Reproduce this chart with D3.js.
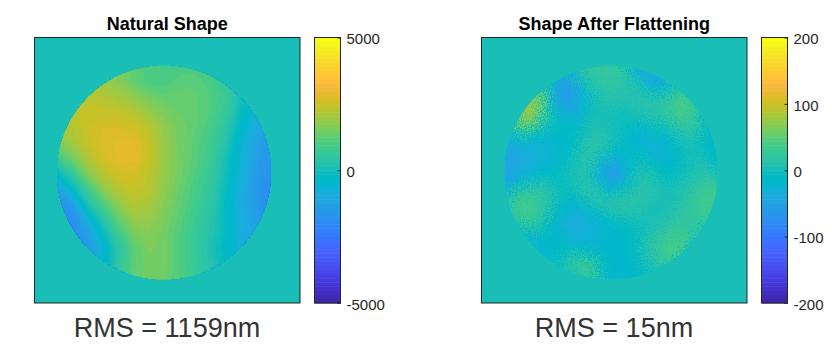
<!DOCTYPE html>
<html>
<head>
<meta charset="utf-8">
<script src="https://cdn.jsdelivr.net/npm/d3@7"></script>
<style>
html, body { margin: 0; padding: 0; background: #fff; }
svg { display: block; font-family: "Liberation Sans", Arial, sans-serif; }
</style>
</head>
<body>
<svg id="chart" width="832" height="353"></svg>
<script>
// parula(64)
const parula = [
[0.2422,0.1504,0.6603],[0.2504,0.1650,0.7076],[0.2578,0.1818,0.7511],[0.2647,0.1978,0.7952],
[0.2706,0.2147,0.8364],[0.2751,0.2342,0.8710],[0.2783,0.2559,0.8991],[0.2803,0.2782,0.9221],
[0.2813,0.3006,0.9414],[0.2810,0.3228,0.9579],[0.2795,0.3447,0.9717],[0.2760,0.3667,0.9829],
[0.2699,0.3892,0.9906],[0.2602,0.4123,0.9952],[0.2440,0.4358,0.9988],[0.2206,0.4603,0.9973],
[0.1963,0.4847,0.9892],[0.1834,0.5074,0.9798],[0.1786,0.5289,0.9682],[0.1764,0.5499,0.9520],
[0.1687,0.5703,0.9359],[0.1540,0.5902,0.9218],[0.1460,0.6091,0.9079],[0.1380,0.6276,0.8973],
[0.1248,0.6459,0.8883],[0.1113,0.6635,0.8763],[0.0952,0.6798,0.8598],[0.0689,0.6948,0.8394],
[0.0297,0.7082,0.8163],[0.0036,0.7203,0.7917],[0.0067,0.7312,0.7660],[0.0433,0.7411,0.7394],
[0.0964,0.7500,0.7120],[0.1408,0.7584,0.6842],[0.1717,0.7670,0.6554],[0.1938,0.7758,0.6251],
[0.2161,0.7843,0.5923],[0.2470,0.7918,0.5567],[0.2906,0.7973,0.5188],[0.3406,0.8008,0.4789],
[0.3909,0.8029,0.4354],[0.4456,0.8024,0.3909],[0.5044,0.7993,0.3480],[0.5616,0.7942,0.3045],
[0.6174,0.7876,0.2612],[0.6720,0.7793,0.2227],[0.7242,0.7698,0.1910],[0.7738,0.7598,0.1646],
[0.8203,0.7498,0.1535],[0.8634,0.7406,0.1596],[0.9035,0.7330,0.1774],[0.9393,0.7288,0.2100],
[0.9728,0.7298,0.2394],[0.9956,0.7434,0.2371],[0.9970,0.7659,0.2199],[0.9952,0.7893,0.2028],
[0.9892,0.8136,0.1885],[0.9786,0.8386,0.1766],[0.9676,0.8639,0.1643],[0.9610,0.8890,0.1537],
[0.9597,0.9135,0.1423],[0.9628,0.9373,0.1265],[0.9691,0.9606,0.1064],[0.9769,0.9839,0.0805]
].map(c => d3.rgb(c[0]*255, c[1]*255, c[2]*255).formatHex());

// surface height in nm, rows top to bottom
const naturalShape = [
[1500,1700,1900,1900,1700,1300,1000,900,900,1000,1000,800,300,-200,-500],
[1800,2000,2100,1900,1700,1300,1000,1000,1200,1200,1000,500,0,-300,-600],
[2000,2200,2300,2200,2000,1800,1500,1300,1300,1300,1100,800,100,-300,-700],
[2200,2300,2400,2400,2400,2200,1900,1600,1400,1300,1100,700,-100,-600,-1000],
[2000,2200,2500,2650,2650,2550,2300,1800,1500,1300,1000,500,-300,-900,-1300],
[1600,2000,2450,2700,2850,2850,2450,1900,1500,1200,900,300,-500,-1200,-1500],
[900,1500,2150,2600,2850,2900,2450,1900,1500,1200,800,100,-600,-1300,-1700],
[-200,700,1700,2250,2600,2650,2350,1900,1500,1100,700,0,-700,-1400,-1800],
[-1200,-200,900,1800,2250,2450,2300,1800,1400,1000,600,-100,-800,-1500,-2000],
[-1800,-1300,200,1100,1800,2200,2100,1700,1300,900,500,-200,-900,-1500,-2000],
[-2000,-1900,-700,400,1300,1900,1900,1600,1200,800,400,-200,-800,-1300,-1800],
[-2100,-2000,-1300,-200,800,1500,1700,1500,1100,700,300,-200,-800,-1200,-1600],
[-2100,-2000,-1500,-600,400,1200,1600,1500,1100,700,200,-300,-700,-1100,-1500],
[-2000,-1900,-1400,-500,500,1200,1500,1500,1100,700,300,-200,-700,-1000,-1400],
[-1900,-1800,-1300,-400,600,1300,1500,1400,1100,800,400,-100,-600,-900,-1300]
];
const flattenedShape = [
[0,0,0,0,0,0,-20,10,20,30,30,25,-20,-45,-40,-20,0,0,0,0,0],
[0,0,0,0,0,-40,-45,5,15,20,25,20,5,-35,-50,-40,-20,0,0,0,0],
[0,0,0,30,10,-55,-60,-35,10,15,15,15,10,0,-20,-25,10,20,0,0,0],
[0,0,40,80,20,-50,-65,-40,-5,10,10,10,10,10,10,15,30,35,10,0,0],
[0,20,110,70,15,-25,-50,-30,-5,5,5,0,5,10,15,20,40,45,20,-10,0],
[0,40,80,45,5,-10,-25,-15,0,5,0,-5,0,5,5,10,25,35,20,-15,-20],
[-10,20,30,10,-5,-5,-10,-5,5,10,5,-5,-15,-15,-10,-5,5,15,15,-10,-20],
[-30,-25,-15,-20,-20,-20,-15,-5,10,15,5,-5,-20,-30,-25,-20,-5,5,5,-15,-20],
[-45,-40,-35,-30,-30,-25,-15,5,20,15,-5,-10,-10,-20,-30,-30,-15,0,0,-10,-15],
[-50,-45,-40,-30,-25,-15,-5,10,15,-15,-45,-30,-5,5,-10,-20,-15,0,5,0,-10],
[-50,-45,-30,-15,-15,-10,0,10,5,-35,-75,-45,-5,10,0,-10,-10,0,10,10,5],
[-40,-25,-5,5,5,-5,-5,10,10,-20,-45,-25,0,15,5,0,0,5,15,25,20],
[-15,15,30,25,15,0,-10,0,15,10,-5,5,10,15,10,5,5,15,25,35,35],
[10,30,40,30,15,-5,-20,-20,0,10,15,15,15,10,5,0,5,15,30,40,35],
[10,25,35,25,5,-15,-35,-35,-20,-10,0,5,5,5,0,5,15,20,25,30,15],
[0,-10,20,15,0,-20,-35,-40,-30,-25,-15,-10,-5,0,5,15,20,25,20,10,-10],
[0,0,-30,-5,-10,-15,-25,-30,-30,-25,-20,-15,-10,0,15,25,35,30,10,-35,0],
[0,0,0,-45,-15,-10,-10,-15,-15,-20,-20,-15,-10,5,20,35,45,30,-30,-40,0],
[0,0,0,0,-25,-5,5,15,10,-5,-15,-15,-10,0,15,30,40,-20,-45,0,0],
[0,0,0,0,0,-5,15,30,35,10,-20,-25,-15,-5,5,10,-10,-30,0,0,0],
[0,0,0,0,0,0,0,10,25,-10,-25,-25,-20,-10,0,0,0,0,0,0,0]
];
const naturalTicks = [-5000, 0, 5000];
const flattenedTicks = [-200, -100, 0, 100, 200];
const titles = ['Natural Shape', 'Shape After Flattening'];
const rmsLabels = ['RMS = 1159nm', 'RMS = 15nm'];

const AXES_TOP = 37.5;
const AXES_SIZE = 265.5;
const CBAR_WIDTH = 26;
const TEXT_COLOR = '#262626';

const svg = d3.select('#chart');

// grain of the measured map on the second panel
const noise = svg.append('defs').append('filter')
    .attr('id', 'grain')
    .attr('filterUnits', 'userSpaceOnUse')
    .attr('x', 0).attr('y', 0).attr('width', 832).attr('height', 353)
    .attr('color-interpolation-filters', 'sRGB');
noise.append('feTurbulence')
    .attr('type', 'fractalNoise')
    .attr('baseFrequency', 0.8)
    .attr('numOctaves', 2)
    .attr('seed', 3)
    .attr('result', 'raw');
// opaque, high contrast noise, else the displacement barely moves anything
noise.append('feColorMatrix')
    .attr('in', 'raw')
    .attr('type', 'matrix')
    .attr('values', '4 0 0 0 -1.5  0 4 0 0 -1.5  0 0 4 0 -1.5  0 0 0 0 1')
    .attr('result', 'n');
noise.append('feDisplacementMap')
    .attr('in', 'SourceGraphic')
    .attr('in2', 'n')
    .attr('scale', 16)
    .attr('xChannelSelector', 'R')
    .attr('yChannelSelector', 'G');

function drawPanel(id, opt) {
    const limit = d3.max(opt.ticks);
    const grid = opt.grid;
    const n = grid.length;
    const flat = [].concat(...grid);

    // disc spans the grid from first to last sample
    const x = d3.scaleLinear().domain([0.5, n - 0.5]).range([opt.discLeft, opt.discLeft + 214]);
    const y = d3.scaleLinear().domain([0.5, n - 0.5]).range([AXES_TOP + 28.3, AXES_TOP + 28.3 + 213.6]);
    const color = d3.scaleQuantize().domain([-limit, limit]).range(parula);

    const path = d3.geoPath(d3.geoTransform({
        point: function(px, py) { this.stream.point(x(px), y(py)); }
    }));

    const g = svg.append('g');
    g.append('rect')
        .attr('x', opt.left).attr('y', AXES_TOP)
        .attr('width', AXES_SIZE).attr('height', AXES_SIZE)
        .attr('fill', color(0));

    svg.select('defs').append('clipPath').attr('id', 'disc-' + id)
        .append('circle')
        .attr('cx', x(n / 2)).attr('cy', y(n / 2)).attr('r', 107);

    const levels = d3.range(64).map(k => -limit + k * 2 * limit / 64);
    const contours = d3.contours().size([n, n]).thresholds(levels)(flat);

    const map = g.append('g').attr('clip-path', 'url(#disc-' + id + ')')
        .append('g').attr('filter', opt.grain ? 'url(#grain)' : null);
    map.selectAll('path').data(contours).join('path')
        .attr('d', path)
        .attr('fill', d => color(d.value + limit / 64));

    g.append('rect')
        .attr('x', opt.left).attr('y', AXES_TOP)
        .attr('width', AXES_SIZE).attr('height', AXES_SIZE)
        .attr('fill', 'none').attr('stroke', TEXT_COLOR).attr('stroke-width', 1);

    // title + rms note
    g.append('text')
        .attr('x', opt.left + AXES_SIZE / 2).attr('y', 30)
        .attr('text-anchor', 'middle')
        .attr('font-size', 18).attr('font-weight', 'bold').attr('fill', '#000')
        .text(opt.title);
    g.append('text')
        .attr('x', opt.rmsX).attr('y', 337)
        .attr('text-anchor', 'middle')
        .attr('font-size', 27).attr('fill', '#333')
        .text(opt.rms);

    // colorbar
    const cb = d3.scaleLinear().domain([-limit, limit]).range([AXES_TOP + AXES_SIZE, AXES_TOP]);
    const step = 2 * limit / 64;
    g.append('g').selectAll('rect').data(parula).join('rect')
        .attr('x', opt.cbarLeft)
        .attr('y', (d, i) => cb(-limit + (i + 1) * step))
        .attr('width', CBAR_WIDTH)
        .attr('height', (d, i) => cb(-limit + i * step) - cb(-limit + (i + 1) * step) + 0.5)
        .attr('fill', d => d);
    g.append('rect')
        .attr('x', opt.cbarLeft).attr('y', AXES_TOP)
        .attr('width', CBAR_WIDTH).attr('height', AXES_SIZE)
        .attr('fill', 'none').attr('stroke', TEXT_COLOR).attr('stroke-width', 1);

    const axis = d3.axisRight(cb).tickValues(opt.ticks).tickSize(-3).tickPadding(6).tickFormat(d => String(d));
    const ag = g.append('g')
        .attr('transform', 'translate(' + (opt.cbarLeft + CBAR_WIDTH) + ',0)')
        .call(axis);
    ag.select('.domain').remove();
    ag.selectAll('line').attr('stroke', TEXT_COLOR);
    ag.selectAll('text')
        .attr('font-family', '"Liberation Sans", Arial, sans-serif')
        .attr('font-size', 15).attr('fill', TEXT_COLOR)
        .attr('dy', '0.42em');
}

drawPanel('a', {
    grid: naturalShape, ticks: naturalTicks, title: titles[0], rms: rmsLabels[0],
    left: 34.5, cbarLeft: 314.5, discLeft: 57, rmsX: 167, grain: false
});
drawPanel('b', {
    grid: flattenedShape, ticks: flattenedTicks, title: titles[1], rms: rmsLabels[1],
    left: 481.5, cbarLeft: 761.5, discLeft: 504, rmsX: 614, grain: true
});
</script>
</body>
</html>
